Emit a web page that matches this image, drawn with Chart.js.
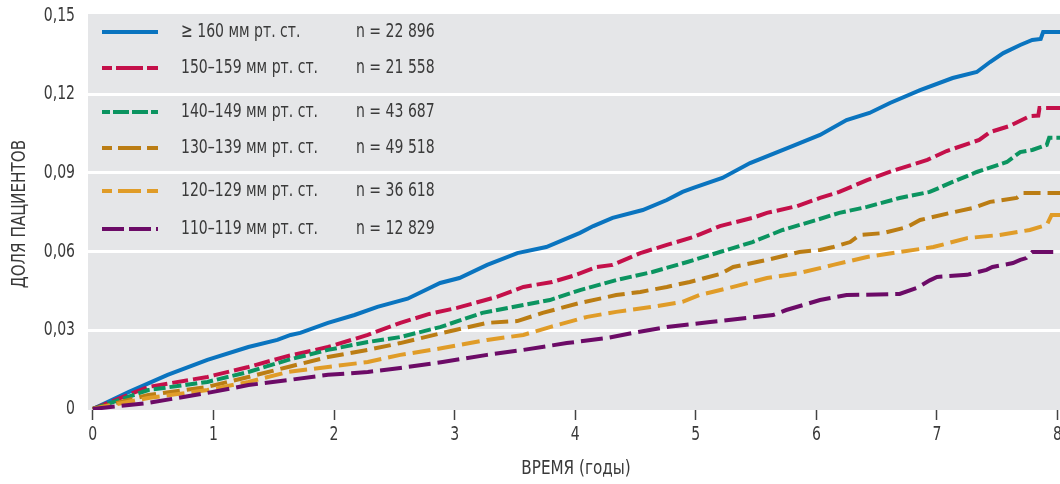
<!DOCTYPE html>
<html lang="ru">
<head>
<meta charset="utf-8">
<title>Доля пациентов</title>
<script src="https://cdn.jsdelivr.net/npm/chart.js@4/dist/chart.umd.min.js"></script>
<style>
    html, body { margin: 0; padding: 0; background: #fff; }
    #chart { display: block; }
</style>
</head>
<body>
<canvas id="chart" width="1060" height="484"></canvas>
<script>
// Data (time in years, share of patients)
const xTicks = [0, 1, 2, 3, 4, 5, 6, 7, 8];
const xTickLabels = ['0', '1', '2', '3', '4', '5', '6', '7', '8'];
const yTicks = [0, 0.03, 0.06, 0.09, 0.12, 0.15];
const yTickLabels = ['0', '0,03', '0,06', '0,09', '0,12', '0,15'];

const seriesNames = ['≥ 160 мм рт. ст.', '150–159 мм рт. ст.', '140–149 мм рт. ст.', '130–139 мм рт. ст.', '120–129 мм рт. ст.', '110–119 мм рт. ст.'];
const seriesCounts = ['n = 22 896', 'n = 21 558', 'n = 43 687', 'n = 49 518', 'n = 36 618', 'n = 12 829'];

const t160 = [0, 0.3, 0.62, 0.95, 1.29, 1.53, 1.64, 1.72, 1.95, 2.17, 2.36, 2.61, 2.88, 3.04, 3.27, 3.52, 3.76, 4.04, 4.15, 4.31, 4.56, 4.76, 4.89, 4.98, 5.22, 5.45, 5.78, 6.03, 6.25, 6.44, 6.61, 6.86, 7.13, 7.33, 7.44, 7.55, 7.69, 7.79, 7.86, 7.88, 8.02];
const v160 = [0, 0.0065, 0.013, 0.0187, 0.0236, 0.0263, 0.0282, 0.029, 0.0328, 0.0358, 0.0389, 0.042, 0.048, 0.0499, 0.0549, 0.0594, 0.0617, 0.0671, 0.0697, 0.0728, 0.0758, 0.0796, 0.0827, 0.0842, 0.088, 0.0937, 0.0998, 0.1044, 0.1101, 0.1128, 0.1166, 0.1215, 0.1261, 0.1284, 0.1322, 0.1356, 0.1387, 0.1406, 0.141, 0.1436, 0.1436];

const t150 = [0, 0.46, 0.95, 1.29, 1.62, 1.95, 2.28, 2.55, 2.79, 3.02, 3.35, 3.57, 3.81, 3.98, 4.18, 4.31, 4.54, 4.76, 4.98, 5.2, 5.47, 5.59, 5.84, 6.03, 6.19, 6.42, 6.63, 6.92, 7.08, 7.35, 7.44, 7.6, 7.77, 7.84, 7.85, 8.02];
const v150 = [0, 0.0084, 0.0122, 0.016, 0.0202, 0.0236, 0.0282, 0.0328, 0.0362, 0.0385, 0.0427, 0.0465, 0.0484, 0.0507, 0.0541, 0.0549, 0.0594, 0.0625, 0.0655, 0.0697, 0.0728, 0.0747, 0.0773, 0.0804, 0.0827, 0.0872, 0.0907, 0.0949, 0.0983, 0.1025, 0.1055, 0.1078, 0.1116, 0.1118, 0.1147, 0.1147];

const t140 = [0, 0.46, 0.95, 1.29, 1.62, 1.95, 2.28, 2.55, 2.88, 3.23, 3.57, 3.79, 4.04, 4.34, 4.64, 4.93, 5.2, 5.47, 5.72, 6.0, 6.19, 6.42, 6.69, 6.94, 7.13, 7.33, 7.58, 7.69, 7.79, 7.91, 7.93, 8.02];
const v140 = [0, 0.0072, 0.0103, 0.0141, 0.0187, 0.0225, 0.0255, 0.0274, 0.0312, 0.0366, 0.0396, 0.0415, 0.0453, 0.0491, 0.0522, 0.056, 0.0598, 0.0636, 0.0682, 0.072, 0.0747, 0.077, 0.0804, 0.0827, 0.0865, 0.0903, 0.0941, 0.0979, 0.0987, 0.1006, 0.1033, 0.1033];

const t130 = [0, 0.46, 0.95, 1.29, 1.62, 1.95, 2.28, 2.55, 2.9, 3.27, 3.52, 3.73, 4.04, 4.34, 4.54, 4.76, 4.95, 5.2, 5.31, 5.59, 5.86, 6.03, 6.14, 6.28, 6.36, 6.55, 6.75, 6.86, 7.11, 7.3, 7.44, 7.66, 7.71, 8.02];
const v130 = [0, 0.0053, 0.0084, 0.0122, 0.016, 0.0198, 0.0225, 0.0251, 0.029, 0.0328, 0.0335, 0.0366, 0.0404, 0.0434, 0.0446, 0.0465, 0.0484, 0.0514, 0.0541, 0.0568, 0.0598, 0.0606, 0.0617, 0.0636, 0.0663, 0.067, 0.0693, 0.072, 0.0747, 0.0766, 0.0789, 0.0804, 0.0823, 0.0823];

const t120 = [0, 0.46, 0.95, 1.29, 1.62, 1.95, 2.28, 2.55, 2.9, 3.27, 3.57, 3.79, 4.1, 4.34, 4.64, 4.89, 5.03, 5.31, 5.59, 5.86, 6.14, 6.42, 6.69, 6.97, 7.25, 7.52, 7.77, 7.91, 7.95, 8.02];
const v120 = [0, 0.0042, 0.0072, 0.0103, 0.0141, 0.016, 0.0179, 0.0206, 0.0232, 0.0263, 0.0282, 0.0312, 0.0351, 0.037, 0.0389, 0.0408, 0.0434, 0.0465, 0.0499, 0.0518, 0.0549, 0.0579, 0.0598, 0.0617, 0.0651, 0.0663, 0.0682, 0.0701, 0.0739, 0.0739];

const t110 = [0, 0.46, 0.95, 1.29, 1.62, 1.95, 2.28, 2.55, 2.9, 3.27, 3.57, 3.93, 4.26, 4.48, 4.76, 5.12, 5.64, 5.75, 6.03, 6.25, 6.69, 6.83, 6.94, 7.0, 7.25, 7.41, 7.46, 7.63, 7.69, 7.74, 7.79, 8.02];
const v110 = [0, 0.0023, 0.0061, 0.0091, 0.011, 0.013, 0.0141, 0.0156, 0.0179, 0.0206, 0.0225, 0.0251, 0.027, 0.029, 0.0312, 0.0331, 0.0358, 0.0377, 0.0415, 0.0434, 0.0438, 0.0461, 0.049, 0.0503, 0.0511, 0.053, 0.0541, 0.0556, 0.0568, 0.0575, 0.0598, 0.0598];

document.addEventListener('DOMContentLoaded', () => {
    const FONT = "'DejaVu Sans Condensed', 'DejaVu Sans', sans-serif";
    const TEXT = '#3a3a3a';
    const PLOT_BG = '#e5e6e8';
    const SQUEEZE = 0.78;       // horizontal squeeze to mimic the condensed face
    const TITLE_SQUEEZE = 0.89;

    // Line styles, same order as seriesNames
    const colors = ['#0a74bf', '#c4104a', '#0b9460', '#bb7d14', '#e09c28', '#6c0b67'];
    const dashes = [[], [16, 5], [12, 4], [17, 7], [18, 7], [22, 7]];
    const legendDashes = [[], [27, 4], [16, 3], [23, 6], [23, 6], [22, 5]];
    const legendOffsets = [0, 17, 8, 13, 13, 0];
    const legendRows = [32, 68, 112, 148, 191, 229];

    const times = [t160, t150, t140, t130, t120, t110];
    const values = [v160, v150, v140, v130, v120, v110];

    function toPoints(t, v) {
        return t.map((x, i) => ({ x: x, y: v[i] }));
    }

    // Draw text squeezed horizontally
    function drawText(ctx, text, x, y, opts) {
        ctx.save();
        ctx.translate(x, y);
        if (opts.rotate) ctx.rotate(opts.rotate);
        ctx.scale(opts.squeeze, 1);
        ctx.font = opts.size + 'px ' + FONT;
        ctx.fillStyle = TEXT;
        ctx.textAlign = opts.align || 'left';
        ctx.textBaseline = 'middle';
        ctx.fillText(text, 0, 0);
        ctx.restore();
    }

    // Gray plot background
    const plotBackground = {
        id: 'plotBackground',
        beforeDraw(chart) {
            const { ctx, chartArea } = chart;
            ctx.save();
            ctx.fillStyle = PLOT_BG;
            ctx.fillRect(chartArea.left, chartArea.top, chartArea.right - chartArea.left, chartArea.bottom - chartArea.top);
            ctx.restore();
        }
    };

    // Axis labels and titles in a condensed look
    const axisText = {
        id: 'axisText',
        afterDraw(chart) {
            const ctx = chart.ctx;
            const xs = chart.scales.x;
            const ys = chart.scales.y;
            xTicks.forEach((v, i) => {
                drawText(ctx, xTickLabels[i], xs.getPixelForValue(v), 435, { size: 20, squeeze: SQUEEZE, align: 'center' });
            });
            yTicks.forEach((v, i) => {
                drawText(ctx, yTickLabels[i], 75, ys.getPixelForValue(v), { size: 20, squeeze: SQUEEZE, align: 'right' });
            });
            drawText(ctx, 'ВРЕМЯ (годы)', 576, 469, { size: 19, squeeze: TITLE_SQUEEZE, align: 'center' });
            drawText(ctx, 'ДОЛЯ ПАЦИЕНТОВ', 20, 214, { size: 19, squeeze: TITLE_SQUEEZE, align: 'center', rotate: -Math.PI / 2 });
        }
    };

    // Two-column legend inside the plot
    const insideLegend = {
        id: 'insideLegend',
        afterDraw(chart) {
            const ctx = chart.ctx;
            seriesNames.forEach((name, i) => {
                const y = legendRows[i];
                ctx.save();
                ctx.strokeStyle = colors[i];
                ctx.lineWidth = 4;
                ctx.lineCap = 'butt';
                ctx.setLineDash(legendDashes[i]);
                ctx.lineDashOffset = legendOffsets[i];
                ctx.beginPath();
                ctx.moveTo(102, y);
                ctx.lineTo(158, y);
                ctx.stroke();
                ctx.restore();

                drawText(ctx, name, 181, y, { size: 20, squeeze: SQUEEZE });
                drawText(ctx, seriesCounts[i], 356, y, { size: 20, squeeze: SQUEEZE });
            });
        }
    };

    const datasets = seriesNames.map((name, i) => ({
        label: name,
        data: toPoints(times[i], values[i]),
        borderColor: colors[i],
        borderWidth: 4,
        borderDash: dashes[i],
        borderCapStyle: 'butt',
        pointRadius: 0,
        tension: 0,
        fill: false
    })).reverse();

    new Chart(document.getElementById('chart'), {
        type: 'line',
        data: { datasets: datasets },
        options: {
            responsive: false,
            devicePixelRatio: 1,
            animation: false,
            layout: { padding: { top: 14, right: 0, left: 0, bottom: 0 } },
            plugins: {
                legend: { display: false },
                tooltip: { enabled: false }
            },
            scales: {
                x: {
                    type: 'linear',
                    min: -0.04,
                    max: 8.02,
                    afterBuildTicks: scale => { scale.ticks = xTicks.map(v => ({ value: v })); },
                    afterFit: scale => {
                        scale.height = 74;
                        scale.paddingLeft = 0;
                        scale.paddingRight = 0;
                    },
                    border: { display: false },
                    grid: {
                        drawOnChartArea: false,
                        drawTicks: true,
                        tickLength: 10,
                        tickColor: '#444',
                        tickWidth: 1.5
                    },
                    ticks: { display: false }
                },
                y: {
                    type: 'linear',
                    min: -0.0004,
                    max: 0.1505,
                    afterBuildTicks: scale => { scale.ticks = yTicks.map(v => ({ value: v })); },
                    afterFit: scale => {
                        scale.width = 88;
                        scale.paddingTop = 0;
                        scale.paddingBottom = 0;
                    },
                    border: { display: false },
                    grid: {
                        drawTicks: false,
                        lineWidth: 3,
                        color: ctx => (ctx.tick && (ctx.tick.value === 0 || ctx.tick.value === 0.15)) ? 'rgba(0,0,0,0)' : '#ffffff'
                    },
                    ticks: { display: false }
                }
            }
        },
        plugins: [plotBackground, axisText, insideLegend]
    });
});
</script>
</body>
</html>
